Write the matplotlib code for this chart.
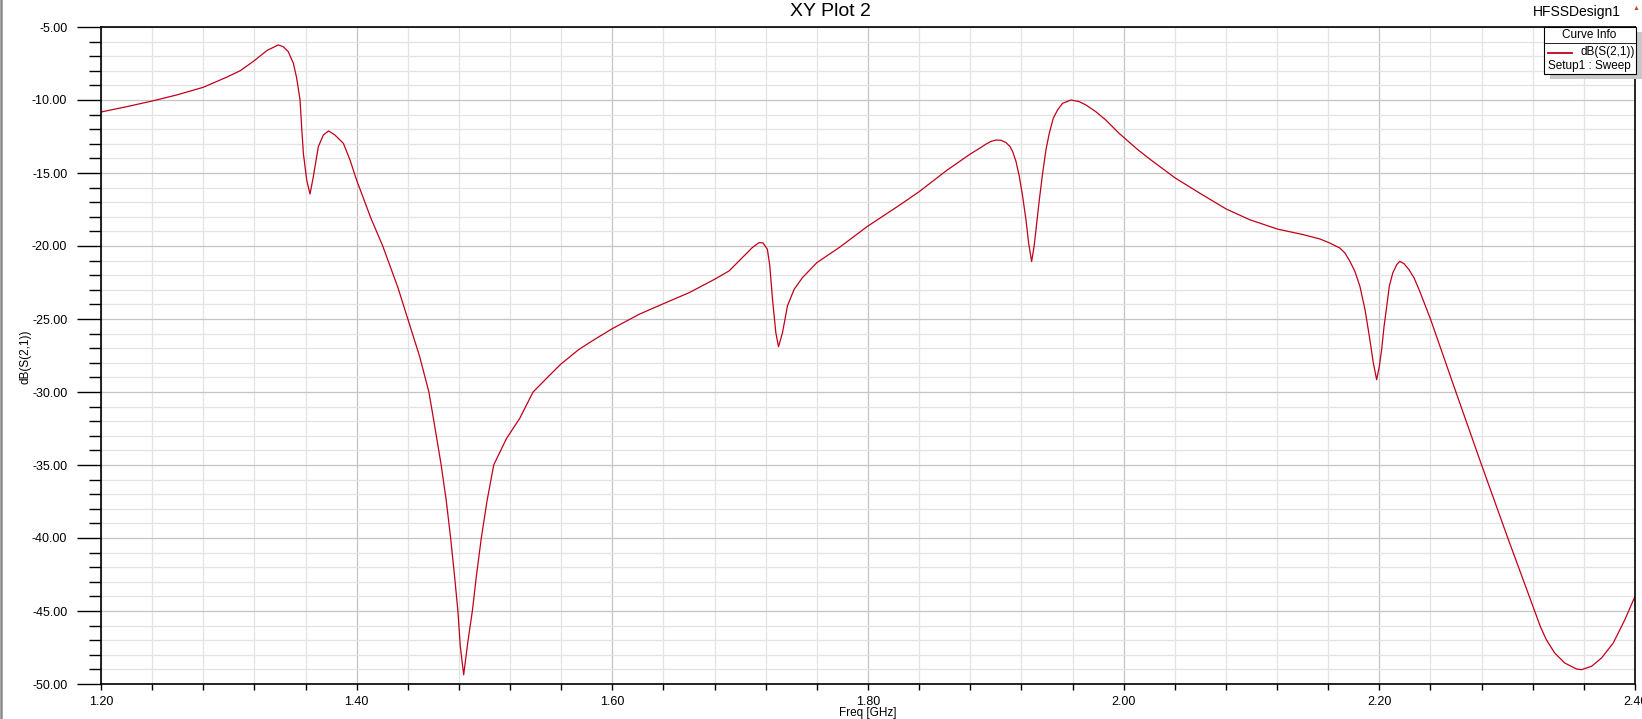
import matplotlib
matplotlib.use("Agg")
import matplotlib.pyplot as plt
from matplotlib.ticker import MultipleLocator, FormatStrFormatter
from matplotlib.patches import Rectangle
from matplotlib.lines import Line2D

plt.rcParams['font.family'] = ['Liberation Sans', 'DejaVu Sans']
plt.rcParams['axes.unicode_minus'] = False

# values
freq_ghz = [1.200, 1.220, 1.240, 1.259, 1.280, 1.298, 1.309, 1.320, 1.330, 1.3387,
            1.3426, 1.3465, 1.3505, 1.3531, 1.3557, 1.3570, 1.3583, 1.3609, 1.3635, 1.3661,
            1.3700, 1.3739, 1.3780, 1.3830, 1.3896, 1.3948, 1.4000, 1.4112, 1.4204, 1.4322,
            1.4400, 1.4492, 1.4565, 1.4609, 1.4661, 1.4701, 1.4735, 1.4766, 1.4792, 1.4810,
            1.4837, 1.4870, 1.4905, 1.4936, 1.4975, 1.5020, 1.5072, 1.5171, 1.5276, 1.5380,
            1.5504, 1.5596, 1.5739, 1.5870, 1.6000, 1.6209, 1.6400, 1.6600, 1.6800, 1.6913,
            1.6990, 1.7096, 1.7148, 1.7179, 1.7213, 1.7232, 1.7253, 1.7279, 1.7300, 1.7331,
            1.7370, 1.7422, 1.7487, 1.7600, 1.7774, 1.8000, 1.8249, 1.8400, 1.8613, 1.8800,
            1.8873, 1.8925, 1.8964, 1.9003, 1.9042, 1.9080, 1.9112, 1.9132, 1.9158, 1.9184,
            1.9210, 1.9236, 1.9257, 1.9280, 1.9299, 1.9314, 1.9340, 1.9366, 1.9392, 1.9418,
            1.9449, 1.9483, 1.9522, 1.9587, 1.9652, 1.9704, 1.9782, 1.9860, 1.9964, 2.0110,
            2.0227, 2.0403, 2.0593, 2.0803, 2.0986, 2.1203, 2.1404, 2.1535, 2.1600, 2.1639,
            2.1691, 2.1731, 2.1770, 2.1809, 2.1848, 2.1888, 2.1922, 2.1953, 2.1979, 2.2000,
            2.2018, 2.2037, 2.2058, 2.2078, 2.2105, 2.2136, 2.2160, 2.2193, 2.2232, 2.2272,
            2.2311, 2.2400, 2.2599, 2.2800, 2.3005, 2.3201, 2.3259, 2.3306, 2.3372, 2.3450,
            2.3542, 2.3581, 2.3660, 2.3738, 2.3830, 2.3921, 2.4000]
s21_db = [-10.82, -10.46, -10.07, -9.66, -9.13, -8.45, -7.99, -7.30, -6.60, -6.23,
          -6.35, -6.69, -7.49, -8.51, -10.00, -11.90, -13.65, -15.48, -16.44, -15.25,
          -13.20, -12.40, -12.12, -12.40, -12.97, -14.11, -15.50, -18.11, -20.00, -22.83,
          -25.00, -27.55, -30.00, -32.26, -35.00, -37.45, -40.00, -42.64, -45.00, -47.36,
          -49.37, -47.10, -45.00, -42.64, -40.00, -37.45, -35.00, -33.20, -31.80, -30.00,
          -28.90, -28.10, -27.08, -26.35, -25.66, -24.68, -23.95, -23.20, -22.28, -21.71,
          -21.03, -20.10, -19.77, -19.79, -20.23, -21.37, -23.65, -25.94, -26.90, -25.94,
          -24.10, -22.97, -22.17, -21.14, -20.11, -18.63, -17.19, -16.28, -14.84, -13.70,
          -13.31, -13.01, -12.83, -12.74, -12.76, -12.92, -13.20, -13.54, -14.22, -15.25,
          -16.62, -18.22, -19.82, -21.07, -20.05, -18.90, -16.85, -15.02, -13.42, -12.28,
          -11.26, -10.68, -10.23, -10.00, -10.11, -10.34, -10.80, -11.37, -12.28, -13.40,
          -14.20, -15.34, -16.37, -17.47, -18.20, -18.84, -19.22, -19.52, -19.75, -19.91,
          -20.14, -20.48, -21.05, -21.74, -22.76, -24.36, -26.19, -28.01, -29.16, -28.24,
          -27.10, -25.50, -24.13, -22.76, -21.85, -21.28, -21.05, -21.21, -21.62, -22.19,
          -22.99, -25.00, -30.00, -35.00, -40.00, -44.68, -46.05, -46.96, -47.88, -48.56,
          -48.97, -49.02, -48.79, -48.22, -47.19, -45.59, -44.00]

W, H = 1642, 719
fig = plt.figure(figsize=(W / 100, H / 100), dpi=100)
ax = fig.add_axes([101 / W, 1 - 684 / H, 1534 / W, 657 / H])

def px(x, y):
    return x / W, 1 - y / H

ax.plot(freq_ghz, s21_db, color='#c0001a', lw=0.9)
ax.set_xlim(1.2, 2.4)
ax.set_ylim(-50, -5)

ax.xaxis.set_major_locator(MultipleLocator(0.2))
ax.xaxis.set_minor_locator(MultipleLocator(0.04))
ax.yaxis.set_major_locator(MultipleLocator(5))
ax.yaxis.set_minor_locator(MultipleLocator(1))
ax.xaxis.set_major_formatter(FormatStrFormatter('%.2f'))
ax.yaxis.set_major_formatter(FormatStrFormatter('%.2f'))

ax.grid(which='major', color='#c4c4c4', lw=0.9)
ax.grid(which='minor', color='#e3e3e3', lw=0.9)
ax.set_axisbelow(True)
for sp in ax.spines.values():
    sp.set_color('black')
    sp.set_linewidth(1.2)

ax.tick_params(axis='y', which='major', length=17.3, width=1.0, pad=7, labelsize=9)
ax.tick_params(axis='y', which='minor', length=8.6, width=1.0)
ax.tick_params(axis='x', which='both', length=4.3, width=1.0, pad=4, labelsize=9)

# titles and axis names
fig.text(*px(830, 12), 'XY Plot 2', ha='center', va='center', fontsize=14)
fig.text(*px(1577, 12), 'HFSSDesign1', ha='center', va='center', fontsize=10)
fig.text(*px(1636, 8), '\u25b2', ha='center', va='center', fontsize=5, color='#c84040')
fig.text(*px(26, 357), 'dB(S(2,1))', ha='center', va='center', rotation=90, fontsize=8.5)
fig.text(*px(868, 713), 'Freq [GHz]', ha='center', va='center', fontsize=8.5)

# curve info box with shadow
x0, y0, x1, y1 = 1544, 27, 1636, 74
fig.patches.append(Rectangle(px(x0 + 6, y1 + 5), (x1 - x0) / W, (y1 - y0) / H,
                             transform=fig.transFigure, facecolor='#c8c8c8',
                             edgecolor='none', zorder=5))
fig.patches.append(Rectangle(px(x0, y1), (x1 - x0) / W, (y1 - y0) / H,
                             transform=fig.transFigure, facecolor='white',
                             edgecolor='black', lw=0.8, zorder=6))
fig.lines.append(Line2D([px(x0, 0)[0], px(x1, 0)[0]], [px(0, 43)[1]] * 2,
                        transform=fig.transFigure, color='black', lw=0.6, zorder=7))
fig.lines.append(Line2D([px(1548, 0)[0], px(1572, 0)[0]], [px(0, 53)[1]] * 2,
                        transform=fig.transFigure, color='#c0001a', lw=1.3, zorder=7))
fig.text(*px(1589, 35.5), 'Curve Info', ha='center', va='center', fontsize=8.5, zorder=8)
fig.text(*px(1580, 52.5), 'dB(S(2,1))', ha='left', va='center', fontsize=8.5, zorder=8)
fig.text(*px(1548, 66.5), 'Setup1 : Sweep', ha='left', va='center', fontsize=8.5, zorder=8)

# window border on the left
fig.lines.append(Line2D([1 / W, 1 / W], [0, 1], transform=fig.transFigure,
                        color='#8a8a8a', lw=1.8))

fig.savefig('out.png', dpi=100)
